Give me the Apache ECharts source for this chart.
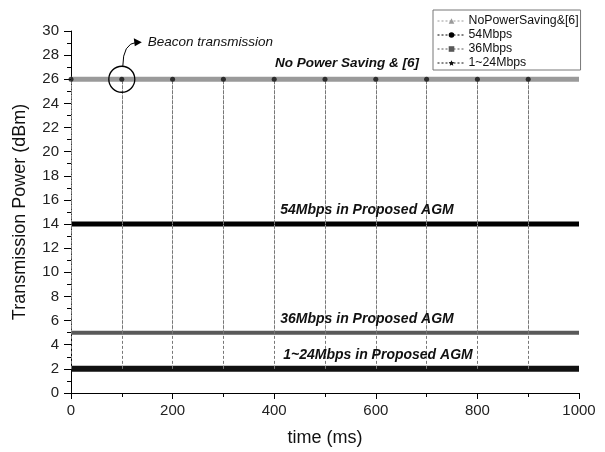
<!DOCTYPE html>
<html>
<head>
<meta charset="utf-8">
<script src="https://cdn.jsdelivr.net/npm/echarts@6/dist/echarts.min.js"></script>
<style>html,body{margin:0;padding:0;background:#fff}#c{width:605px;height:452px}</style>
</head>
<body>
<div id="c"></div>
<script>
// ---- data ----
const seriesNames = ['NoPowerSaving&[6]', '54Mbps', '36Mbps', '1~24Mbps'];
const seriesLevels = [26, 14, 5, 2];          // dBm
const timeSpan = [0, 1000];                   // ms
const beaconTimes = [0, 100, 200, 300, 400, 500, 600, 700, 800, 900];
const beaconPower = 26;
const xTicks = [0, 200, 400, 600, 800, 1000];
const yTicks = [0, 2, 4, 6, 8, 10, 12, 14, 16, 18, 20, 22, 24, 26, 28, 30];
const lineLabels = ['No Power Saving & [6]', '54Mbps in Proposed AGM', '36Mbps in Proposed AGM', '1~24Mbps in Proposed AGM'];
const annotationText = 'Beacon transmission';

// ---- styles ----
const colors = ['#9a9a9a', '#000000', '#595959', '#111111'];
const widths = [5, 5, 4, 6];
const symbols = ['triangle', 'circle', 'rect', 'path://M0,-10 L2.9,-4 L9.5,-3.1 L4.7,1.5 L5.9,8.1 L0,5 L-5.9,8.1 L-4.7,1.5 L-9.5,-3.1 L-2.9,-4 Z'];
const font = 'Liberation Sans, Arial, sans-serif';

const chart = echarts.init(document.getElementById('c'), null, {renderer: 'canvas'});

const series = seriesNames.map((name, i) => {
  const lvl = seriesLevels[i];
  const s = {
    name: name,
    type: 'line',
    data: timeSpan.map(t => [t, lvl]),
    symbol: symbols[i],
    symbolSize: 7,
    showSymbol: false,
    itemStyle: {color: colors[i]},
    lineStyle: {color: colors[i], width: widths[i]},
    z: 3,
    animation: false
  };
  if (i > 0) {
    s.markLine = {
      silent: true,
      symbol: 'none',
      animation: false,
      label: {show: false},
      lineStyle: {color: i === 2 ? '#999' : '#777', width: 1, type: [3, 2]},
      data: beaconTimes.map(t => [{coord: [t, lvl]}, {coord: [t, beaconPower]}])
    };
  }
  return s;
});

series.push({
  name: 'beacon',
  type: 'scatter',
  data: beaconTimes.map(t => [t, beaconPower]),
  symbol: 'circle',
  symbolSize: 5,
  itemStyle: {color: '#111'},
  z: 5,
  animation: false
});

chart.setOption({
  backgroundColor: '#fff',
  animation: false,
  grid: {left: 71, right: 26, top: 31, bottom: 57, containLabel: false},
  legend: {
    data: seriesNames,
    orient: 'vertical',
    left: 433,
    top: 10,
    itemWidth: 28,
    itemHeight: 7,
    itemGap: 0,
    padding: [4, 2, 0, 4],
    borderColor: '#777',
    borderWidth: 1,
    textStyle: {fontFamily: font, fontSize: 12.3, lineHeight: 14, color: '#111', padding: [0, 0, 0, -2]},
    lineStyle: {type: [2, 2], width: 1}
  },
  xAxis: {
    type: 'value',
    min: 0, max: 1000, interval: 200,
    name: 'time (ms)',
    nameLocation: 'middle',
    nameGap: 36,
    nameTextStyle: {fontFamily: font, fontSize: 18, color: '#111'},
    axisLine: {show: true, lineStyle: {color: '#000', width: 1}},
    axisTick: {show: true, length: 6, lineStyle: {color: '#000'}},
    minorTick: {show: true, splitNumber: 2, length: 4, lineStyle: {color: '#000'}},
    axisLabel: {fontFamily: font, fontSize: 15, color: '#222', margin: 10,
      formatter: v => xTicks.includes(v) ? String(v) : ''},
    splitLine: {show: false}
  },
  yAxis: {
    type: 'value',
    min: 0, max: 30, interval: 2,
    name: 'Transmission Power (dBm)',
    nameLocation: 'middle',
    nameGap: 42,
    nameTextStyle: {fontFamily: font, fontSize: 18, color: '#111'},
    axisLine: {show: true, lineStyle: {color: '#000', width: 1}},
    axisTick: {show: true, length: 7, lineStyle: {color: '#000'}},
    minorTick: {show: true, splitNumber: 2, length: 4, lineStyle: {color: '#000'}},
    axisLabel: {fontFamily: font, fontSize: 15, color: '#222', margin: 12,
      formatter: v => yTicks.includes(v) ? String(v) : ''},
    splitLine: {show: false}
  },
  series: series
});

// annotations positioned from data coordinates
const px = (x, y) => chart.convertToPixel({gridIndex: 0}, [x, y]);
const c = px(beaconTimes[1], beaconPower);
const labelPos = [[347, 63], [367, 210], [367, 319], [378, 355]];
const labelSizes = [13.5, 14, 14, 14];
const graphics = lineLabels.map((t, i) => ({
  type: 'text',
  x: labelPos[i][0], y: labelPos[i][1],
  style: {text: t, fill: '#111', font: 'italic bold ' + labelSizes[i] + 'px ' + font, align: 'center', verticalAlign: 'middle'},
  z: 10
}));
graphics.push({
  type: 'circle',
  shape: {cx: c[0], cy: c[1], r: 13},
  style: {fill: 'none', stroke: '#000', lineWidth: 1.3},
  z: 10
});
graphics.push({
  type: 'bezierCurve',
  shape: {x1: c[0] + 1, y1: c[1] - 13, cpx1: c[0] + 1, cpy1: c[1] - 36, x2: c[0] + 15, y2: c[1] - 37},
  style: {stroke: '#000', lineWidth: 1, fill: 'none'},
  z: 10
});
graphics.push({
  type: 'polygon',
  shape: {points: [[c[0] + 20, c[1] - 37], [c[0] + 12, c[1] - 41], [c[0] + 13, c[1] - 33]]},
  style: {fill: '#000'},
  z: 10
});
graphics.push({
  type: 'text',
  x: c[0] + 26, y: c[1] - 37,
  style: {text: annotationText, fill: '#111', font: 'italic 13.5px ' + font, align: 'left', verticalAlign: 'middle'},
  z: 10
});
chart.setOption({graphic: graphics});
</script>
</body>
</html>
